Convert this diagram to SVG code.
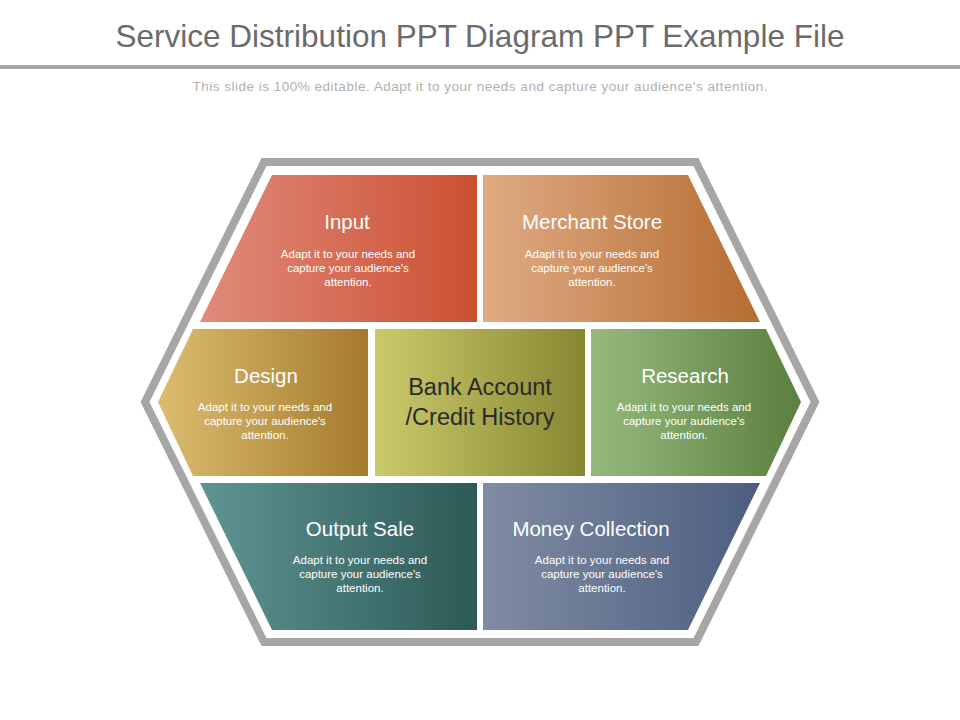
<svg xmlns="http://www.w3.org/2000/svg" width="960" height="720" viewBox="0 0 960 720">
<defs>
<linearGradient id="gIn"><stop offset="0" stop-color="#e08b7b"/><stop offset="1" stop-color="#cc5032"/></linearGradient>
<linearGradient id="gMe"><stop offset="0" stop-color="#dfab84"/><stop offset="1" stop-color="#b66c30"/></linearGradient>
<linearGradient id="gDe"><stop offset="0" stop-color="#dbbd70"/><stop offset="1" stop-color="#a57a2c"/></linearGradient>
<linearGradient id="gBa"><stop offset="0" stop-color="#cbca6a"/><stop offset="1" stop-color="#878732"/></linearGradient>
<linearGradient id="gRe"><stop offset="0" stop-color="#96ba7e"/><stop offset="1" stop-color="#5a7f3e"/></linearGradient>
<linearGradient id="gOu"><stop offset="0" stop-color="#609493"/><stop offset="1" stop-color="#2c5a56"/></linearGradient>
<linearGradient id="gMo"><stop offset="0" stop-color="#808ca2"/><stop offset="1" stop-color="#4c5e80"/></linearGradient>
</defs>
<style>
.t{font-family:"Liberation Sans",Arial,sans-serif;fill:#fff;text-anchor:middle}
.h{font-size:20.5px}
.s{font-size:11.5px}
</style>
<rect width="960" height="720" fill="#fff"/>
<text x="480" y="47" font-family="Liberation Sans,Arial,sans-serif" font-size="31.5" fill="#6b6b6b" text-anchor="middle">Service Distribution PPT Diagram PPT Example File</text>
<rect x="0" y="65" width="960" height="4" fill="#a6a6a6"/>
<text x="480" y="91" font-family="Liberation Sans,Arial,sans-serif" font-size="13.5" fill="#b0b0b0" text-anchor="middle" textLength="575">This slide is 100% editable. Adapt it to your needs and capture your audience's attention.</text>
<polygon points="264,162 696,162 815,402 696,642 264,642 145,402" fill="none" stroke="#a6a6a6" stroke-width="8"/>
<g id="input"><polygon points="272,175 477,175 477,322 200,322" fill="url(#gIn)"/>
<text class="t h" x="347" y="229">Input</text>
<text class="t s" x="348" y="258">Adapt it to your needs and</text><text class="t s" x="348" y="272">capture your audience's</text><text class="t s" x="348" y="286">attention.</text></g>
<g id="merchant"><polygon points="483,175 688,175 760,322 483,322" fill="url(#gMe)"/>
<text class="t h" x="592" y="229">Merchant Store</text>
<text class="t s" x="592" y="258">Adapt it to your needs and</text><text class="t s" x="592" y="272">capture your audience's</text><text class="t s" x="592" y="286">attention.</text></g>
<g id="design"><polygon points="193,329 368,329 368,476 193,476 158,402" fill="url(#gDe)"/>
<text class="t h" x="266" y="383">Design</text>
<text class="t s" x="265" y="411">Adapt it to your needs and</text><text class="t s" x="265" y="425">capture your audience's</text><text class="t s" x="265" y="439">attention.</text></g>
<g id="bank"><rect x="375" y="329" width="210" height="147" fill="url(#gBa)"/>
<text x="480" y="395" font-family="Liberation Sans,Arial,sans-serif" font-size="23.5" fill="#2a2a2a" text-anchor="middle">Bank Account</text>
<text x="480" y="425" font-family="Liberation Sans,Arial,sans-serif" font-size="23.5" fill="#2a2a2a" text-anchor="middle">/Credit History</text></g>
<g id="research"><polygon points="591,329 766,329 801,402 766,476 591,476" fill="url(#gRe)"/>
<text class="t h" x="685" y="383">Research</text>
<text class="t s" x="684" y="411">Adapt it to your needs and</text><text class="t s" x="684" y="425">capture your audience's</text><text class="t s" x="684" y="439">attention.</text></g>
<g id="output"><polygon points="200,483 477,483 477,630 272,630" fill="url(#gOu)"/>
<text class="t h" x="360" y="536">Output Sale</text>
<text class="t s" x="360" y="564">Adapt it to your needs and</text><text class="t s" x="360" y="578">capture your audience's</text><text class="t s" x="360" y="592">attention.</text></g>
<g id="money"><polygon points="483,483 760,483 688,630 483,630" fill="url(#gMo)"/>
<text class="t h" x="591" y="536">Money Collection</text>
<text class="t s" x="602" y="564">Adapt it to your needs and</text><text class="t s" x="602" y="578">capture your audience's</text><text class="t s" x="602" y="592">attention.</text></g>
<g id="connectors"/>
</svg>
